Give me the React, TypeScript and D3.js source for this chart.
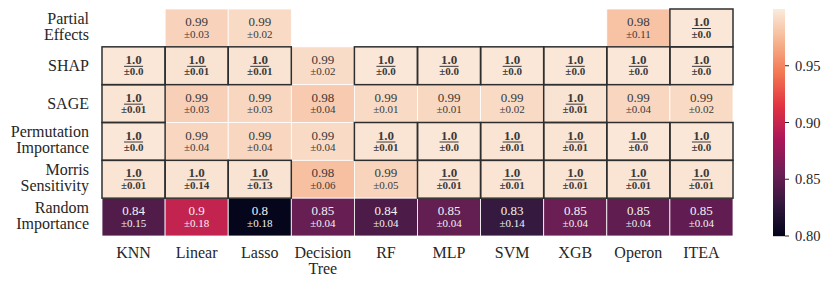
import React from "react";
import * as d3 from "d3";

const methods = ["KNN", "Linear", "Lasso", "Decision\nTree", "RF", "MLP", "SVM", "XGB", "Operon", "ITEA"];
const explainers = ["Partial\nEffects", "SHAP", "SAGE", "Permutation\nImportance", "Morris\nSensitivity", "Random\nImportance"];

// mean scores (null = not available)
const partialEffectsMean = [null, 0.987, 0.991, null, null, null, null, null, 0.979, 0.998];
const shapMean = [0.998, 0.996, 0.996, 0.992, 0.998, 0.998, 0.998, 0.998, 0.998, 0.998];
const sageMean = [0.997, 0.986, 0.989, 0.983, 0.991, 0.99, 0.991, 0.996, 0.989, 0.991];
const permutationMean = [0.998, 0.989, 0.989, 0.991, 0.997, 0.998, 0.997, 0.997, 0.998, 0.998];
const morrisMean = [0.997, 0.996, 0.996, 0.978, 0.988, 0.997, 0.997, 0.997, 0.997, 0.997];
const randomMean = [0.842, 0.898, 0.801, 0.853, 0.84, 0.851, 0.829, 0.854, 0.849, 0.85];

// standard deviations
const partialEffectsStd = [null, 0.03, 0.02, null, null, null, null, null, 0.11, 0.0];
const shapStd = [0.0, 0.01, 0.01, 0.02, 0.0, 0.0, 0.0, 0.0, 0.0, 0.0];
const sageStd = [0.01, 0.03, 0.03, 0.04, 0.01, 0.01, 0.02, 0.01, 0.04, 0.02];
const permutationStd = [0.0, 0.04, 0.04, 0.04, 0.01, 0.0, 0.01, 0.01, 0.0, 0.0];
const morrisStd = [0.01, 0.14, 0.13, 0.06, 0.05, 0.01, 0.01, 0.01, 0.01, 0.01];
const randomStd = [0.15, 0.18, 0.18, 0.04, 0.04, 0.04, 0.14, 0.04, 0.04, 0.04];

const colorbarTicks = [0.8, 0.85, 0.9, 0.95];

const means = [partialEffectsMean, shapMean, sageMean, permutationMean, morrisMean, randomMean];
const stds = [partialEffectsStd, shapStd, sageStd, permutationStd, morrisStd, randomStd];

const rocketStops = ["#03051a", "#35193e", "#701f57", "#ad1759", "#e13342", "#f37651", "#f6b48f", "#faebdd"];
const rocket = d3.scaleLinear<string>()
  .domain(rocketStops.map((_, i) => i / (rocketStops.length - 1)))
  .range(rocketStops)
  .interpolate(d3.interpolateRgb);

const vmin = 0.8, vmax = 1.0;
const color = (v: number) => rocket(Math.max(0, Math.min(1, (v - vmin) / (vmax - vmin))));

function pyFmt(x: number) {
  const r = Math.round(x * 100) / 100;
  let s = String(r);
  if (!s.includes(".")) s += ".0";
  return s;
}

function luminance(c: string) {
  const rgb = d3.rgb(c);
  const f = (v: number) => {
    const s = v / 255;
    return s <= 0.03928 ? s / 12.92 : Math.pow((s + 0.055) / 1.055, 2.4);
  };
  return 0.2126 * f(rgb.r) + 0.7152 * f(rgb.g) + 0.0722 * f(rgb.b);
}

const FONT = "Liberation Serif";
const fs = { fontFamily: FONT };

export default function App() {
  const W = 831, H = 286;
  const x0 = 102, x1 = 733, y0 = 9, y1 = 236;
  const x = d3.scaleBand<number>().domain(d3.range(methods.length)).range([x0, x1]).padding(0);
  const y = d3.scaleBand<number>().domain(d3.range(explainers.length)).range([y0, y1]).padding(0);
  const cw = x.bandwidth(), ch = y.bandwidth();

  const cbX = 773, cbW = 12;
  const cbY = d3.scaleLinear().domain([vmin, vmax]).range([y1, y0]);
  const cbSteps = d3.range(0, y1 - y0);

  const cells: any[] = [];
  means.forEach((row, r) => row.forEach((m, c) => {
    if (m === null) return;
    const s = stds[r][c] as number;
    const fill = color(m);
    const label = pyFmt(m);
    cells.push({ r, c, m, s, fill, label, best: label === "1.0", light: luminance(fill) > 0.408 });
  }));

  return (
    <svg width={W} height={H} style={{ position: "absolute", left: 0, top: 0, background: "#fff", fontFamily: FONT }}>
      <style>{"text, tspan { font-family: 'Liberation Serif', serif; }"}</style>
      {/* cells */}
      {cells.map((d) => (
        <rect key={`c${d.r}-${d.c}`} x={x(d.c)} y={y(d.r)} width={cw} height={ch} fill={d.fill}
          stroke="#fff" strokeWidth={0.8} />
      ))}
      {/* highlight borders */}
      {cells.filter((d) => d.best).map((d) => (
        <rect key={`b${d.r}-${d.c}`} x={x(d.c)!} y={y(d.r)!} width={cw} height={ch} fill="none"
          stroke="#2e2e2e" strokeWidth={1.5} />
      ))}
      {/* annotations */}
      {cells.map((d) => {
        const cx = x(d.c)! + cw / 2;
        const cy = y(d.r)!;
        const tc = d.light ? "#3a3a3a" : "#f2f2f2";
        const w = 19;
        return (
          <g key={`t${d.r}-${d.c}`} fill={tc} textAnchor="middle">
            <text x={cx} y={cy + 17} fontSize={13} fontFamily={FONT} style={fs} fontWeight={d.best ? "bold" : "normal"}>{d.label}</text>
            {d.best && <line x1={cx - w / 2} x2={cx + w / 2} y1={cy + 19.5} y2={cy + 19.5} stroke={tc} strokeWidth={1} />}
            <text x={cx} y={cy + 28.5} fontSize={11} fontFamily={FONT} style={fs} fontWeight={d.best ? "bold" : "normal"}>{"\u00b1" + pyFmt(d.s)}</text>
          </g>
        );
      })}
      {/* row labels */}
      {explainers.map((name, r) => {
        const lines = name.split("\n");
        const cy = y(r)! + ch / 2;
        return (
          <text key={`r${r}`} x={89} textAnchor="end" fontSize={16} fill="#262626" fontFamily={FONT} style={fs}>
            {lines.length === 1
              ? <tspan x={89} y={cy + 5}>{lines[0]}</tspan>
              : lines.map((l, i) => <tspan key={i} x={89} y={cy - 4 + i * 16}>{l}</tspan>)}
          </text>
        );
      })}
      {/* column labels */}
      {methods.map((name, c) => {
        const lines = name.split("\n");
        const cx = x(c)! + cw / 2;
        return (
          <text key={`m${c}`} textAnchor="middle" fontSize={16} fill="#262626" fontFamily={FONT} style={fs}>
            {lines.map((l, i) => <tspan key={i} x={cx} y={258 + i * 16}>{l}</tspan>)}
          </text>
        );
      })}
      {/* colorbar */}
      {cbSteps.map((i) => {
        const v0 = cbY.invert(y1 - i - 0.5);
        return <rect key={`g${i}`} x={cbX} y={y1 - i - 1} width={cbW} height={1.2} fill={color(v0)} />;
      })}
      {colorbarTicks.map((t) => (
        <g key={`k${t}`}>
          <line x1={cbX + cbW} x2={cbX + cbW + 4} y1={cbY(t)} y2={cbY(t)} stroke="#262626" strokeWidth={1} />
          <text x={cbX + cbW + 10} y={cbY(t) + 5} fontSize={14.5} fill="#262626" fontFamily={FONT} style={fs}>{d3.format(".2f")(t)}</text>
        </g>
      ))}
    </svg>
  );
}
